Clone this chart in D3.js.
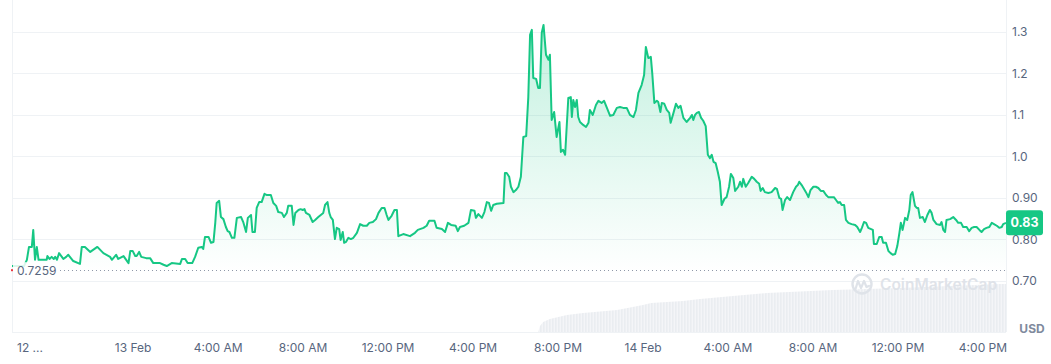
<!DOCTYPE html>
<html>
<head>
<meta charset="utf-8">
<script src="https://cdn.jsdelivr.net/npm/d3@7"></script>
<style>
  body { margin: 0; background: #fff; }
  svg { display: block; font-family: Inter, "Noto Sans", sans-serif; }
  .tick-label { fill: #58667e; font-size: 12px; }
</style>
</head>
<body>
<div id="chart"></div>
<script>
// price samples, time in minutes from 13 Feb 00:00 (UTC)
var priceTimes = [
  -342,-308,-300,-294,-286,-282,-277,-272,-267,-244,-242,-236,-230,-224,-220,-215,-209,-197,-189,-183,
  -169,-150,-145,-136,-121,-113,-101,-84,-65,-60,-48,-42,-27,-13,-8,-1,6,10,17,23,
  37,48,57,76,86,95,109,133,138,147,154,167,175,184,194,198,203,213,220,227,
  232,236,243,248,255,262,267,272,279,286,293,305,311,319,324,333,337,344,349,356,
  363,371,378,389,396,404,410,420,426,434,438,448,453,458,467,473,479,484,488,498,
  507,514,523,530,537,542,549,554,558,564,570,575,582,586,592,596,601,608,615,622,
  632,641,650,660,667,677,686,693,702,710,716,721,730,738,745,749,763,782,796,804,
  820,829,836,851,857,872,881,889,898,911,917,923,935,947,954,964,968,975,985,992,
  999,1005,1011,1017,1027,1046,1050,1055,1062,1067,1074,1081,1088,1095,1102,1110,1116,1121,1126,1130,
  1138,1144,1149,1154,1159,1166,1173,1177,1182,1189,1196,1204,1208,1214,1220,1229,1236,1239,1243,1248,
  1253,1257,1262,1271,1279,1286,1290,1298,1307,1314,1323,1330,1338,1347,1356,1366,1375,1384,1394,1403,
  1413,1420,1427,1436,1443,1448,1455,1462,1466,1472,1479,1483,1489,1493,1500,1507,1514,1518,1526,1533,
  1540,1546,1554,1563,1573,1578,1582,1587,1592,1598,1604,1610,1617,1623,1629,1634,1639,1645,1651,1657,
  1662,1670,1676,1683,1688,1695,1700,1709,1714,1719,1723,1730,1737,1747,1754,1761,1768,1772,1778,1784,
  1794,1803,1813,1818,1825,1830,1834,1841,1847,1855,1864,1872,1877,1881,1888,1893,1900,1907,1913,1921,
  1928,1935,1942,1949,1957,1963,1973,1979,1985,1991,1996,2001,2008,2013,2020,2029,2039,2045,2053,2058,
  2064,2070,2076,2089,2092,2100,2107,2114,2118,2126,2133,2139,2145,2152,2158,2164,2168,2173,2180,2186,
  2192,2196,2201,2208,2213,2217,2222,2230,2236,2243,2250,2255,2260,2269,2279,2283,2288,2293,2297,2307,
  2316,2324,2330,2338,2344,2354,2361,2368,2375,2382,2390,2396,2403,2410,2418,2425,2431,2439,2446,2453,
  2457,2465
];
var priceValues = [
  0.736,0.736,0.751,0.782,0.782,0.823,0.751,0.782,0.751,0.751,0.760,0.753,0.758,0.753,0.758,0.751,0.767,0.753,0.758,0.763,
  0.748,0.741,0.782,0.782,0.770,0.775,0.782,0.767,0.758,0.751,0.763,0.753,0.760,0.743,0.772,0.772,0.760,0.760,0.770,0.758,
  0.755,0.755,0.743,0.743,0.739,0.736,0.743,0.741,0.753,0.753,0.743,0.743,0.758,0.780,0.782,0.777,0.806,0.806,0.792,0.794,
  0.840,0.888,0.893,0.854,0.849,0.830,0.820,0.818,0.804,0.804,0.852,0.854,0.842,0.818,0.852,0.859,0.818,0.818,0.876,0.890,
  0.890,0.910,0.907,0.907,0.888,0.881,0.866,0.864,0.854,0.864,0.881,0.881,0.835,0.864,0.871,0.873,0.871,0.873,0.864,0.859,
  0.842,0.847,0.854,0.859,0.864,0.883,0.890,0.864,0.854,0.847,0.801,0.828,0.825,0.799,0.818,0.792,0.794,0.804,0.801,0.804,
  0.816,0.837,0.833,0.833,0.840,0.842,0.849,0.864,0.876,0.876,0.859,0.847,0.857,0.871,0.871,0.808,0.813,0.808,0.816,0.823,
  0.828,0.833,0.845,0.845,0.828,0.825,0.818,0.840,0.835,0.833,0.820,0.830,0.833,0.840,0.871,0.869,0.852,0.861,0.852,0.866,
  0.890,0.888,0.869,0.883,0.886,0.888,0.960,0.960,0.951,0.927,0.914,0.919,0.927,0.951,1.047,1.049,1.143,1.293,1.305,1.189,
  1.187,1.165,1.165,1.298,1.317,1.245,1.233,1.245,1.088,1.107,1.047,1.083,1.011,1.016,1.004,1.141,1.143,1.095,1.136,1.119,
  1.136,1.095,1.083,1.076,1.071,1.081,1.112,1.100,1.124,1.134,1.129,1.134,1.117,1.098,1.100,1.117,1.119,1.117,1.117,1.100,
  1.095,1.112,1.153,1.172,1.196,1.264,1.237,1.240,1.201,1.129,1.134,1.131,1.107,1.129,1.127,1.112,1.105,1.081,1.105,1.127,
  1.117,1.122,1.093,1.083,1.093,1.100,1.088,1.100,1.105,1.107,1.093,1.086,1.073,1.004,0.996,1.004,0.987,0.984,0.963,0.939,
  0.883,0.898,0.902,0.927,0.958,0.948,0.917,0.927,0.939,0.927,0.946,0.927,0.936,0.951,0.946,0.939,0.934,0.917,0.924,0.914,
  0.912,0.914,0.924,0.922,0.900,0.898,0.871,0.895,0.902,0.895,0.914,0.927,0.931,0.939,0.931,0.924,0.914,0.902,0.919,0.927,
  0.927,0.924,0.917,0.917,0.907,0.902,0.902,0.902,0.895,0.888,0.890,0.883,0.883,0.847,0.840,0.837,0.835,0.830,0.818,0.828,
  0.842,0.840,0.828,0.823,0.789,0.789,0.806,0.806,0.792,0.792,0.772,0.767,0.763,0.765,0.784,0.816,0.840,0.823,0.852,0.847,
  0.871,0.907,0.914,0.881,0.876,0.876,0.852,0.854,0.842,0.859,0.871,0.864,0.847,0.837,0.835,0.842,0.823,0.818,0.847,0.849,
  0.854,0.847,0.840,0.840,0.830,0.830,0.820,0.828,0.830,0.830,0.823,0.818,0.825,0.828,0.830,0.840,0.837,0.833,0.828,0.830,
  0.837,0.840
];
// volume (M USD), same time base
var volumeTimes = [1144,1149,1158,1177,1225,1271,1367,1440,1463,1553,1601,1694,1790,1976,2166,2448,2465];
var volumeValues = [0,3,5,6.5,8.5,9.5,11,13.5,14.5,15.5,16.5,18,19.5,21,22,24,24];

var yTicks = [0.7, 0.8, 0.9, 1.0, 1.1, 1.2, 1.3];
var yTickLabels = ["0.70", "0.80", "0.90", "1.0", "1.1", "1.2", "1.3"];
var xTickHours = [0, 4, 8, 12, 16, 20, 24, 28, 32, 36, 40];
var firstLabel = "12 ...";
var refPrice = 0.7259;
var refLabel = "0.7259";
var lastLabel = "0.83";

var width = 1051;
var height = 364;
var plotLeft = 12, plotRight = 1006, plotTop = 0, plotBottom = 332;

var base = Date.UTC(2025, 1, 13);
function toDate(m) { return new Date(base + m * 60000); }

var priceData = priceTimes.map(function(t, i) { return { t: toDate(t), v: priceValues[i] }; });
var volumeData = volumeTimes.map(function(t, i) { return { t: toDate(t), v: volumeValues[i] }; });

var svg = d3.select("#chart")
    .append("svg")
    .attr("width", width)
    .attr("height", height);

var x = d3.scaleUtc()
    .domain([priceData[0].t, priceData[priceData.length - 1].t])
    .range([plotLeft, plotRight]);

var y = d3.scaleLinear()
    .domain([0.577, 1.377])
    .range([plotBottom, plotTop]);

var yVol = d3.scaleLinear()
    .domain([0, 166])
    .range([plotBottom, plotTop]);

var defs = svg.append("defs");
var grad = defs.append("linearGradient")
    .attr("id", "areaGrad")
    .attr("gradientUnits", "userSpaceOnUse")
    .attr("x1", 0).attr("x2", 0)
    .attr("y1", y(1.317)).attr("y2", y(0.72));
grad.append("stop").attr("offset", "0%").attr("stop-color", "#16c784").attr("stop-opacity", 0.26);
grad.append("stop").attr("offset", "100%").attr("stop-color", "#16c784").attr("stop-opacity", 0.0);

var pat = defs.append("pattern")
    .attr("id", "volPat")
    .attr("patternUnits", "userSpaceOnUse")
    .attr("width", 3).attr("height", 4);
pat.append("rect").attr("width", 3).attr("height", 4).attr("fill", "#f4f5f8");
pat.append("rect").attr("width", 1.6).attr("height", 4).attr("fill", "#eaedf1");

// grid lines
svg.append("g")
    .selectAll("line")
    .data(yTicks)
    .join("line")
    .attr("x1", plotLeft).attr("x2", plotRight)
    .attr("y1", function(d) { return Math.round(y(d)) + 0.5; })
    .attr("y2", function(d) { return Math.round(y(d)) + 0.5; })
    .attr("stroke", "#eff2f5")
    .attr("stroke-width", 1);

// frame lines
svg.append("line").attr("x1", plotLeft + 0.5).attr("x2", plotLeft + 0.5).attr("y1", plotTop).attr("y2", plotBottom)
    .attr("stroke", "#eff2f5");
svg.append("line").attr("x1", plotRight + 0.5).attr("x2", plotRight + 0.5).attr("y1", plotTop).attr("y2", plotBottom)
    .attr("stroke", "#eff2f5");
svg.append("line").attr("x1", plotLeft).attr("x2", plotRight).attr("y1", plotBottom + 0.5).attr("y2", plotBottom + 0.5)
    .attr("stroke", "#eff2f5");

// price area
var area = d3.area()
    .x(function(d) { return x(d.t); })
    .y0(plotBottom)
    .y1(function(d) { return y(d.v); });

svg.append("path")
    .datum(priceData)
    .attr("d", area)
    .attr("fill", "url(#areaGrad)");

// volume
var volArea = d3.area()
    .x(function(d) { return x(d.t); })
    .y0(plotBottom)
    .y1(function(d) { return yVol(d.v); });

svg.append("path")
    .datum(volumeData)
    .attr("d", volArea)
    .attr("fill", "url(#volPat)");

// watermark
var wm = svg.append("g");
wm.append("circle").attr("cx", 862).attr("cy", 284).attr("r", 9.5)
    .attr("fill", "none").attr("stroke", "#dfe3e9").attr("stroke-width", 2.4);
wm.append("path")
    .attr("d", "M855.5,289 L858,281 L861,288 L864,281 L866.5,287 L869,286")
    .attr("fill", "none").attr("stroke", "#dfe3e9").attr("stroke-width", 2.2)
    .attr("stroke-linejoin", "round").attr("stroke-linecap", "round");
wm.append("text")
    .attr("x", 880).attr("y", 290)
    .attr("fill", "#dfe3e9")
    .style("font-size", "15.5px")
    .style("font-weight", 600)
    .text("CoinMarketCap");

// reference dotted line
svg.append("line")
    .attr("x1", 60).attr("x2", plotRight)
    .attr("y1", Math.round(y(refPrice)) + 0.5).attr("y2", Math.round(y(refPrice)) + 0.5)
    .attr("stroke", "#8f98a8")
    .attr("stroke-width", 1)
    .attr("stroke-dasharray", "1,3");

// price line
var line = d3.line()
    .x(function(d) { return x(d.t); })
    .y(function(d) { return y(d.v); });

svg.append("path")
    .datum(priceData)
    .attr("d", line)
    .attr("fill", "none")
    .attr("stroke", "#16c784")
    .attr("stroke-width", 2)
    .attr("stroke-linejoin", "round");

// reference price label sits over the start of the line
svg.append("rect")
    .attr("x", plotLeft + 1).attr("y", y(refPrice) - 8)
    .attr("width", 46).attr("height", 18)
    .attr("fill", "#fff")
    .attr("fill-opacity", 0.85);
svg.append("rect")
    .attr("x", plotLeft - 1).attr("y", y(refPrice) - 1)
    .attr("width", 2).attr("height", 2)
    .attr("fill", "#ea3943");
svg.append("text")
    .attr("class", "tick-label")
    .attr("x", 17).attr("y", y(refPrice) + 1)
    .attr("dy", "0.35em")
    .text(refLabel);

// y tick labels
svg.append("g")
    .selectAll("text")
    .data(yTicks)
    .join("text")
    .attr("class", "tick-label")
    .attr("x", 1012)
    .attr("y", function(d) { return y(d); })
    .attr("dy", "0.35em")
    .text(function(d, i) { return yTickLabels[i]; });

// x tick labels
var fmtDay = d3.utcFormat("%-d %b");
var fmtHour = d3.utcFormat("%-I:%M %p");
svg.append("g")
    .selectAll("text")
    .data(xTickHours)
    .join("text")
    .attr("class", "tick-label")
    .attr("x", function(d) { return x(toDate(d * 60)); })
    .attr("y", 352)
    .attr("text-anchor", "middle")
    .text(function(d) {
      var t = toDate(d * 60);
      return t.getUTCHours() === 0 ? fmtDay(t) : fmtHour(t);
    });

svg.append("text")
    .attr("class", "tick-label")
    .attr("x", plotLeft + 5).attr("y", 352)
    .text(firstLabel);

// USD unit
svg.append("text")
    .attr("x", 1032).attr("y", 333)
    .attr("text-anchor", "middle")
    .attr("fill", "#808a9d")
    .style("font-size", "12px")
    .style("font-weight", 700)
    .text("USD");

// current price tag
var last = priceData[priceData.length - 1];
svg.append("rect")
    .attr("x", plotRight).attr("y", y(last.v) - 12.5)
    .attr("width", 37).attr("height", 25)
    .attr("rx", 3)
    .attr("fill", "#16c784");
svg.append("text")
    .attr("x", plotRight + 18.5).attr("y", y(last.v))
    .attr("dy", "0.35em")
    .attr("text-anchor", "middle")
    .attr("fill", "#fff")
    .style("font-size", "12.5px")
    .style("font-weight", 700)
    .text(lastLabel);
</script>
</body>
</html>
